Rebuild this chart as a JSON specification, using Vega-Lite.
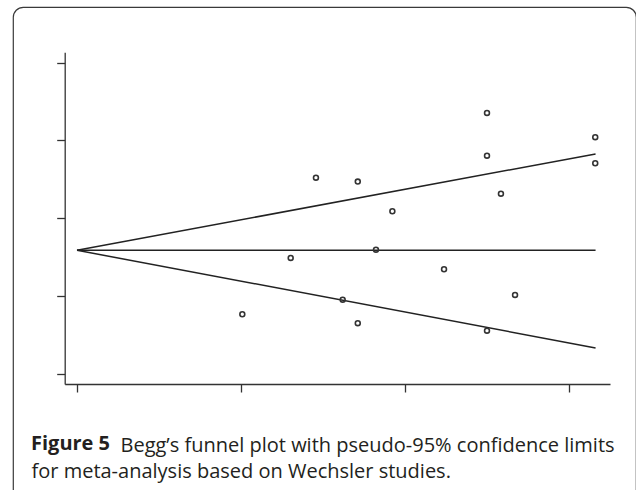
{
  "$schema": "https://vega.github.io/schema/vega-lite/v6.json",
  "width": 623,
  "height": 500,
  "autosize": {"type": "none"},
  "padding": {"left": 13, "top": 7, "right": 0, "bottom": 0},
  "background": "white",
  "config": {
    "view": {"stroke": "#3a3a3a", "strokeWidth": 1.2, "cornerRadius": 10}
  },
  "title": {
    "text": "Figure 5",
    "orient": "top",
    "anchor": "start",
    "frame": "group",
    "offset": 0,
    "baseline": "alphabetic",
    "dx": 18,
    "dy": 463,
    "font": "Open Sans",
    "fontSize": 20,
    "fontWeight": "bold",
    "color": "#231f20"
  },
  "datasets": {
    "studies": [
      {"se": 1.457, "effect": 0.522},
      {"se": 1.303, "effect": -0.511},
      {"se": 1.008, "effect": -1.235},
      {"se": 1.712, "effect": 0.471},
      {"se": 2.5, "effect": 1.354},
      {"se": 2.5, "effect": 0.805},
      {"se": 3.16, "effect": 1.042},
      {"se": 3.16, "effect": 0.707},
      {"se": 2.585, "effect": 0.316},
      {"se": 1.923, "effect": 0.09},
      {"se": 1.823, "effect": -0.404},
      {"se": 2.238, "effect": -0.656},
      {"se": 2.671, "effect": -0.986},
      {"se": 1.62, "effect": -1.047},
      {"se": 1.712, "effect": -1.35},
      {"se": 2.5, "effect": -1.446}
    ],
    "limits": [
      {"se": 0, "center": -0.412, "upper": -0.412, "lower": -0.412},
      {"se": 3.162, "center": -0.412, "upper": 0.827, "lower": -1.668}
    ]
  },
  "encoding": {
    "x": {
      "field": "se",
      "type": "quantitative",
      "scale": {"domain": [-0.075, 3.25], "range": [51.7, 597], "nice": false, "zero": false},
      "axis": {
        "values": [0, 1, 2, 3],
        "labels": false,
        "grid": false,
        "tickSize": 8,
        "tickColor": "#333",
        "domainColor": "#333",
        "tickWidth": 1.3,
        "domainWidth": 1.3,
        "offset": -123,
        "title": "Begg’s funnel plot with pseudo-95% confidence limits",
        "titleX": 107,
        "titleY": 67.5,
        "titleAlign": "left",
        "titleBaseline": "alphabetic",
        "titleFont": "Open Sans",
        "titleFontSize": 20,
        "titleFontWeight": "normal",
        "titleColor": "#231f20"
      }
    },
    "y": {
      "field": "effect",
      "type": "quantitative",
      "scale": {"domain": [-2.132, 2.134], "range": [377, 45.3], "nice": false, "zero": false},
      "axis": {
        "values": [-2, -1, 0, 1, 2],
        "labels": false,
        "grid": false,
        "tickSize": 8,
        "tickColor": "#333",
        "domainColor": "#333",
        "tickWidth": 1.3,
        "domainWidth": 1.3,
        "offset": -51.7,
        "title": "for meta-analysis based on Wechsler studies.",
        "titleAngle": 0,
        "titleX": -33.7,
        "titleY": 470.3,
        "titleAlign": "left",
        "titleBaseline": "alphabetic",
        "titleFont": "Open Sans",
        "titleFontSize": 20,
        "titleFontWeight": "normal",
        "titleColor": "#231f20"
      }
    }
  },
  "layer": [
    {
      "data": {"name": "limits"},
      "transform": [{"fold": ["upper", "center", "lower"], "as": ["limit", "effect"]}],
      "mark": {"type": "line", "color": "#222", "strokeWidth": 1.5},
      "encoding": {"detail": {"field": "limit"}}
    },
    {
      "data": {"name": "studies"},
      "mark": {"type": "point", "shape": "circle", "filled": false, "size": 24, "strokeWidth": 1.6, "color": "#333", "opacity": 1}
    }
  ]
}
